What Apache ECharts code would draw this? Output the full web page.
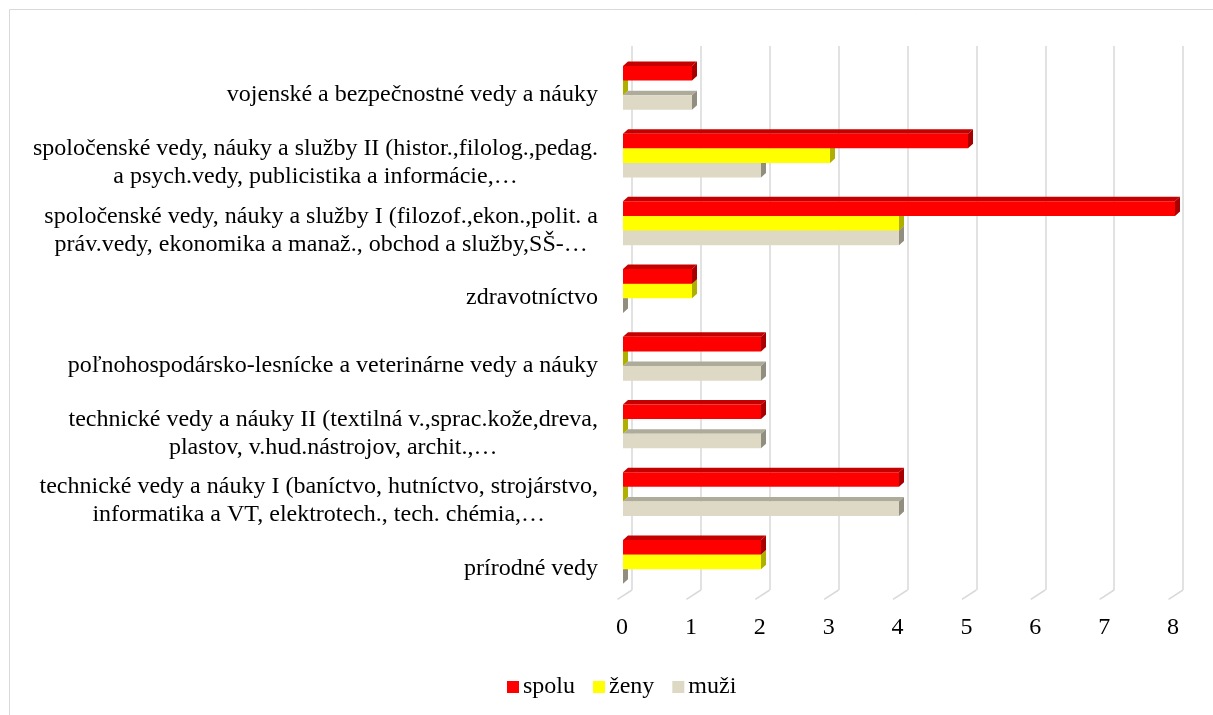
<!DOCTYPE html>
<html><head><meta charset="utf-8">
<script src="https://cdn.jsdelivr.net/npm/echarts@6/dist/echarts.min.js"></script>
<style>html,body{margin:0;padding:0;background:#fff}#c{width:1213px;height:715px}</style>
</head><body><div id="c"></div>
<script>
// categories, top to bottom
const categories = [
  'vojenské a bezpečnostné vedy a náuky',
  'spoločenské vedy, náuky a služby II (histor.,filolog.,pedag.\na psych.vedy, publicistika a informácie,…',
  'spoločenské vedy, náuky a služby I (filozof.,ekon.,polit. a\npráv.vedy, ekonomika a manaž., obchod a služby,SŠ-…',
  'zdravotníctvo',
  'poľnohospodársko-lesnícke a veterinárne vedy a náuky',
  'technické vedy a náuky II (textilná v.,sprac.kože,dreva,\nplastov, v.hud.nástrojov, archit.,…',
  'technické vedy a náuky I (baníctvo, hutníctvo, strojárstvo,\ninformatika a VT, elektrotech., tech. chémia,…',
  'prírodné vedy'
];
const spolu = [1, 5, 8, 1, 2, 2, 4, 2];
const zeny  = [0, 3, 4, 1, 0, 0, 0, 2];
const muzi  = [1, 2, 4, 0, 2, 2, 4, 0];
const seriesNames = ['spolu', 'ženy', 'muži'];
const xTickValues = [0, 1, 2, 3, 4, 5, 6, 7, 8];
const xTickLabels = ['0', '1', '2', '3', '4', '5', '6', '7', '8'];

const FONT = 'Liberation Serif, Times New Roman, serif';
const FS = 24;
const DX = 5, DY = 4.5;
const faces = [
  { front: '#FF0000', top: '#C40000', side: '#A80000' },
  { front: '#FFFF00', top: '#CDCD00', side: '#AFAF00' },
  { front: '#DDD9C4', top: '#AEAB9B', side: '#918E80' }
];

function bar3D(slot, face) {
  return function (params, api) {
    const v = api.value(0), c = api.value(1);
    const a = api.coord([0, c]);
    const b = api.coord([v, c]);
    const band = api.size([0, 1])[1];
    const h = band * 0.216;
    const top = a[1] + (slot - 1.5) * h;
    const bot = top + h;
    const x0 = a[0], x1 = b[0];
    return {
      type: 'group',
      children: [
        { type: 'polygon', shape: { points: [[x0, top], [x1, top], [x1 + DX, top - DY], [x0 + DX, top - DY]] }, style: { fill: face.top } },
        { type: 'rect', shape: { x: x0, y: top, width: x1 - x0, height: h }, style: { fill: face.front } },
        { type: 'polygon', shape: { points: [[x1, top], [x1 + DX, top - DY], [x1 + DX, bot - DY], [x1, bot]] }, style: { fill: face.side } }
      ]
    };
  };
}

const valuesList = [spolu, zeny, muzi];
const barSeries = valuesList.map((vals, i) => ({
  type: 'custom',
  name: seriesNames[i],
  xAxisIndex: 2,
  yAxisIndex: 2,
  z: 5 - i,
  itemStyle: { color: faces[i].front },
  encode: { x: 0, y: 1 },
  data: vals.map((v, k) => [v, k]),
  renderItem: bar3D(i, faces[i]),
  silent: true
}));

const chart = echarts.init(document.getElementById('c'), null, { renderer: 'canvas' });
chart.setOption({
  animation: false,
  backgroundColor: '#fff',
  graphic: [{
    type: 'rect', shape: { x: 9.5, y: 9.5, width: 1220, height: 720 },
    style: { fill: 'none', stroke: '#d9d9d9', lineWidth: 1 }, silent: true
  }],
  grid: [
    { left: 622, width: 551, top: 61, height: 541.7 },
    { left: 632, width: 551, top: 46, height: 544 },
    { left: 623, width: 552, top: 54, height: 541.7 }
  ],
  xAxis: [
    { gridIndex: 0, type: 'value', min: 0, max: 8, interval: 1,
      axisLine: { show: false }, axisTick: { show: false }, splitLine: { show: false },
      axisLabel: { margin: 13, color: '#000', fontFamily: FONT, fontSize: FS,
        formatter: v => xTickLabels[xTickValues.indexOf(v)] } },
    { gridIndex: 1, type: 'value', min: 0, max: 8, interval: 1,
      axisLine: { show: false }, axisTick: { show: false }, axisLabel: { show: false },
      splitLine: { show: true, lineStyle: { color: '#d9d9d9', width: 1.5 } } },
    { gridIndex: 2, type: 'value', min: 0, max: 8, show: false }
  ],
  yAxis: [
    { gridIndex: 0, type: 'category', inverse: true, data: categories,
      axisLine: { show: false }, axisTick: { show: false }, splitLine: { show: false },
      axisLabel: { interval: 0, margin: 24, color: '#000', fontFamily: FONT, fontSize: FS,
        formatter: v => v.split('\n').map(l => '{c|' + l + '}').join('\n'),
        rich: { c: { align: 'center', fontFamily: FONT, fontSize: FS, color: '#000', lineHeight: 28 } } } },
    { gridIndex: 1, type: 'value', min: 0, max: 1, show: false },
    { gridIndex: 2, type: 'category', inverse: true, data: categories, show: false }
  ],
  legend: {
    data: seriesNames.map((n, i) => ({ name: n, itemStyle: { color: faces[i].front } })),
    left: 507, top: 675, padding: 0,
    icon: 'rect', itemWidth: 12, itemHeight: 12, itemGap: 18,
    textStyle: { fontFamily: FONT, fontSize: FS, color: '#000', padding: [0, 0, 0, -1] },
    selectedMode: false
  },
  series: [
    {
      type: 'custom', xAxisIndex: 1, yAxisIndex: 1, z: 1, silent: true,
      data: xTickValues.map(v => [v, 0]),
      encode: { x: 0, y: 1 },
      renderItem: function (params, api) {
        const p = api.coord([api.value(0), 0]);
        return { type: 'line', shape: { x1: p[0] - 14.5, y1: p[1] + 9.3, x2: p[0], y2: p[1] },
          style: { stroke: '#d9d9d9', lineWidth: 1.5 } };
      }
    }
  ].concat(barSeries)
});
</script></body></html>
